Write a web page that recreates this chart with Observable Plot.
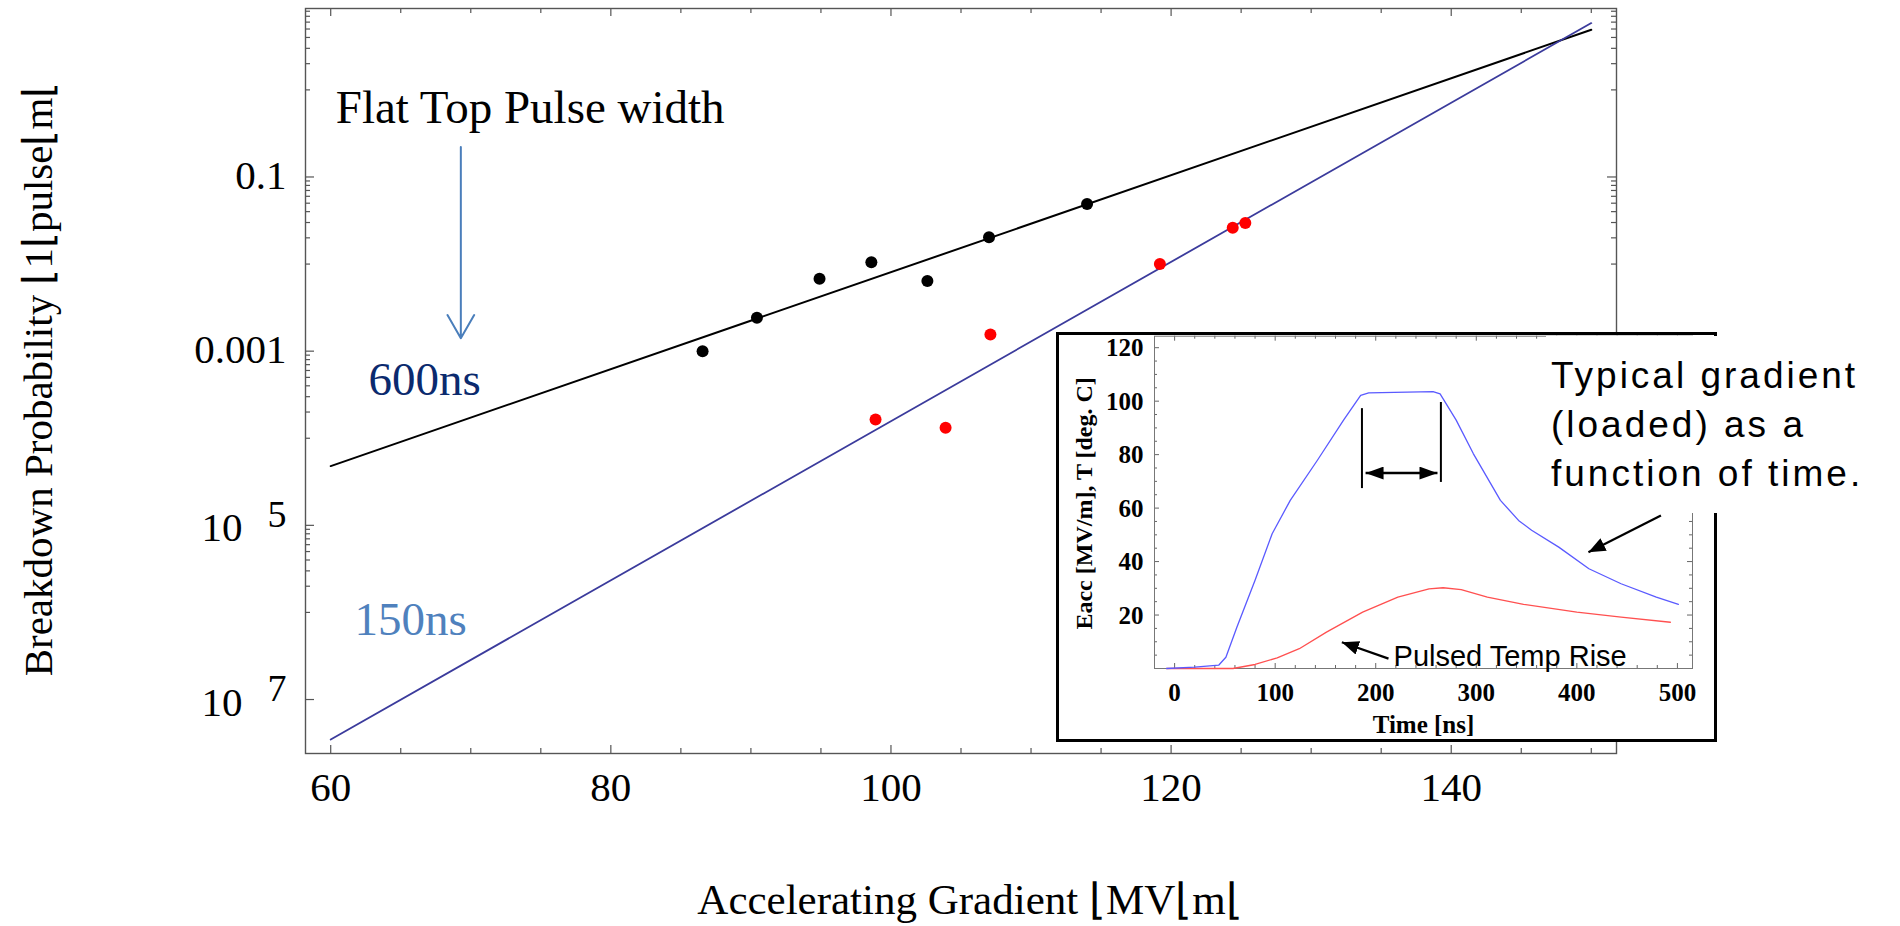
<!DOCTYPE html>
<html>
<head>
<meta charset="utf-8">
<script src="https://cdn.jsdelivr.net/npm/d3@7"></script>
<script src="https://cdn.jsdelivr.net/npm/@observablehq/plot@0.6"></script>
<style>
  html, body { margin: 0; padding: 0; background: #fff; }
  #figure { position: relative; width: 1900px; height: 926px; overflow: hidden; background: #fff; }
  #figure > svg { position: absolute; }
  #inset-box {
    position: absolute; left: 1056px; top: 332px; width: 661px; height: 410px;
    box-sizing: border-box; border: 3px solid #000; background: #fff;
  }
  #gradient-note {
    position: absolute; left: 1546px; top: 336px; width: 340px; height: 177px;
    box-sizing: border-box; padding: 15px 0 0 5px; background: #fff; color: #000;
    font: 37px/49px "Liberation Sans", Arial, sans-serif; letter-spacing: 3px; white-space: pre;
  }
</style>
</head>
<body>
<div id="figure"></div>
<script>
// ---- Breakdown probability vs accelerating gradient ----
// 600 ns flat-top pulses (black) and 150 ns flat-top pulses (red)
const gradient600 = [86.55, 90.43, 94.9, 98.6, 102.6, 107.0, 114.0];
const probability600 = [1.0e-3, 2.42e-3, 6.78e-3, 1.05e-2, 6.38e-3, 2.03e-2, 4.9e-2];
const gradient150 = [98.9, 103.9, 107.1, 119.2, 124.4, 125.3];
const probability150 = [1.64e-4, 1.32e-4, 1.55e-3, 1.0e-2, 2.61e-2, 2.96e-2];

// Exponential fits, evaluated at the ends of the gradient range
const fitGradient = [60, 150];
const fit600 = [4.79e-5, 4.9];
const fit150 = [3.47e-8, 5.85];

// Axis ticks
const gradientTicks = [60, 80, 100, 120, 140];
const gradientMinorTicks = [65, 70, 75, 85, 90, 95, 105, 110, 115, 125, 130, 135, 145, 150];
const probabilityTicks = [1e-1, 1e-3, 1e-5, 1e-7];
const probabilityTickBase = ["0.1", "0.001", "10", "10"];
const probabilityTickExponent = ["", "", "5", "7"];
const minorDecades = [1, 1e-2, 1e-4, 1e-6];
const minorSteps = [1, 2, 3, 4, 5, 6, 7, 8, 9];

// Text annotations on the main panel
const noteLabels = ["Flat Top Pulse width", "600ns", "150ns"];
const noteGradient = [60.36, 62.7, 61.7];
const noteProbability = [0.418, 3.12e-4, 5.45e-7];
const pointerGradient = 69.29;
const pointerFrom = 0.2213;
const pointerTo = 1.41e-3;

const xLabel = "Accelerating Gradient \u230AMV\u230Am\u230A";
const yLabel = "Breakdown Probability \u230A1\u230Apulse\u230Am\u230A";

// ---- Inset: accelerating gradient and pulsed temperature rise vs time ----
const pulseTime = [-8, 20, 44, 51, 62, 80, 97, 115, 142, 168, 185, 193, 257, 264, 280, 297, 324, 342, 355, 382, 412, 444, 479, 501];
const pulseGradient = [0, 0.5, 1.3, 4.2, 15.5, 33, 50.4, 62.9, 77.9, 92.9, 102.2, 103.1, 103.6, 102.7, 92.9, 80.4, 62.9, 55.4, 51.7, 45.4, 37.3, 31.7, 26.7, 24.0];
const tempTime = [-8, 58, 80, 102, 124, 151, 187, 222, 253, 267, 285, 311, 347, 400, 444, 493];
const tempRise = [0, 0, 1.5, 4.0, 7.4, 13.6, 21.1, 26.7, 29.8, 30.2, 29.5, 26.7, 24.0, 21.1, 19.2, 17.3];

const timeTicks = [0, 100, 200, 300, 400, 500];
const timeMinorTicks = [20, 40, 60, 80, 120, 140, 160, 180, 220, 240, 260, 280, 320, 340, 360, 380, 420, 440, 460, 480];
const valueTicks = [20, 40, 60, 80, 100, 120];
const valueMinorTicks = [5, 10, 15, 25, 30, 35, 45, 50, 55, 65, 70, 75, 85, 90, 95, 105, 110, 115];

// Flat-top interval marker (edges and double arrow)
const flatTopEdgeTime = [186.3, 264.8];
const flatTopEdgeLow = [67.3, 69.6];
const flatTopEdgeHigh = [97.2, 99.5];
const flatTopArrowTime = [189.9, 261.4];
const flatTopArrowLevel = 73.1;

// Call-out arrows: [tailTime, tailValue, tipTime, tipValue]
const gradientCallout = [483.6, 57.2, 411.5, 43.5];
const tempCallout = [212.7, 3.7, 166.3, 9.8];
const tempLabel = "Pulsed Temp Rise";
const tempLabelAt = [217.7, 1.1];
const insetXLabel = "Time [ns]";
const insetYLabel = "Eacc [MV/m], T [deg. C]";
const noteText = "Typical gradient\n(loaded) as a\nfunction of time.";

// ---------------------------------------------------------------
const serif = "Liberation Serif, Times New Roman, serif";
const sans = "Liberation Sans, Arial, sans-serif";

const points600 = gradient600.map((g, i) => ({g, p: probability600[i]}));
const points150 = gradient150.map((g, i) => ({g, p: probability150[i]}));
const line600 = fitGradient.map((g, i) => ({g, p: fit600[i]}));
const line150 = fitGradient.map((g, i) => ({g, p: fit150[i]}));
const notes = noteLabels.map((label, i) => ({label, g: noteGradient[i], p: noteProbability[i]}));
const noteColors = ["#000000", "#0b2a6e", "#4f81bd"];
const yTickRows = probabilityTicks.map((v, i) => ({v, base: probabilityTickBase[i], exp: probabilityTickExponent[i]}));
const yDomain = [2.4e-8, 8.6];
const probabilityMinorTicks = minorDecades.flatMap(d => minorSteps.map(s => s * d))
  .filter(v => v >= yDomain[0] && v <= yDomain[1]);

const W = 1900, H = 926;
const M = {top: 8, right: 284, bottom: 173, left: 305};
const frameW = W - M.left - M.right;
const frameH = H - M.top - M.bottom;
const tickStyle = {stroke: "#555", strokeWidth: 1.2};

const main = Plot.plot({
  width: W, height: H,
  marginTop: M.top, marginRight: M.right, marginBottom: M.bottom, marginLeft: M.left,
  x: {domain: [58.2, 151.8], axis: null},
  y: {type: "log", domain: yDomain, axis: null},
  style: {background: "transparent", overflow: "visible"},
  marks: [
    // inward ticks on all four sides
    Plot.ruleX(gradientTicks, {x: d => d, insetTop: frameH - 8, ...tickStyle}),
    Plot.ruleX(gradientTicks, {x: d => d, insetBottom: frameH - 8, ...tickStyle}),
    Plot.ruleX(gradientMinorTicks, {x: d => d, insetTop: frameH - 5, ...tickStyle}),
    Plot.ruleX(gradientMinorTicks, {x: d => d, insetBottom: frameH - 5, ...tickStyle}),
    Plot.ruleY(probabilityTicks, {y: d => d, insetRight: frameW - 9, ...tickStyle}),
    Plot.ruleY(probabilityTicks, {y: d => d, insetLeft: frameW - 9, ...tickStyle}),
    Plot.ruleY(probabilityMinorTicks, {y: d => d, insetRight: frameW - 5, ...tickStyle}),
    Plot.ruleY(probabilityMinorTicks, {y: d => d, insetLeft: frameW - 5, ...tickStyle}),
    Plot.frame({stroke: "#555", strokeWidth: 1.4}),

    // fits and measurements
    Plot.line(line600, {x: "g", y: "p", stroke: "#000", strokeWidth: 2}),
    Plot.line(line150, {x: "g", y: "p", stroke: "#3b3b9c", strokeWidth: 1.8}),
    Plot.dot(points600, {x: "g", y: "p", r: 6, fill: "#000"}),
    Plot.dot(points150, {x: "g", y: "p", r: 6, fill: "#ff0000"}),

    // tick labels
    Plot.text(gradientTicks, {x: d => d, text: d => String(d), frameAnchor: "bottom", lineAnchor: "bottom",
      dy: 47, fontSize: 41, fontFamily: serif, fill: "#000"}),
    Plot.text(yTickRows.filter(d => !d.exp), {y: "v", text: "base", frameAnchor: "left", textAnchor: "end",
      lineAnchor: "bottom", dx: -19, dy: 12, fontSize: 41, fontFamily: serif, fill: "#000"}),
    Plot.text(yTickRows.filter(d => d.exp), {y: "v", text: "base", frameAnchor: "left", textAnchor: "end",
      lineAnchor: "bottom", dx: -63, dy: 16, fontSize: 41, fontFamily: serif, fill: "#000"}),
    Plot.text(yTickRows.filter(d => d.exp), {y: "v", text: "exp", frameAnchor: "left", textAnchor: "end",
      lineAnchor: "bottom", dx: -19, dy: 1.5, fontSize: 38, fontFamily: serif, fill: "#000"}),

    // annotations
    ...notes.map((n, i) => Plot.text([n], {x: "g", y: "p", text: "label", textAnchor: "start",
      lineAnchor: "bottom", fontSize: 47, fontFamily: serif, fill: noteColors[i]})),
    Plot.arrow([{g: pointerGradient, p1: pointerFrom, p2: pointerTo}], {x: "g", y1: "p1", y2: "p2",
      stroke: "#4a7ebb", strokeWidth: 2, headLength: 20, headAngle: 60}),

    // axis titles
    Plot.text([xLabel], {text: d => d, frameAnchor: "bottom", textAnchor: "middle", lineAnchor: "bottom",
      dx: 9, dy: 160, fontSize: 43, fontFamily: serif, fill: "#000"}),
    Plot.text([yLabel], {text: d => d, frameAnchor: "left", rotate: -90, textAnchor: "middle",
      lineAnchor: "bottom", dx: -254, dy: -2, fontSize: 41, fontFamily: serif, fill: "#000"})
  ]
});

// filled triangular arrowhead
function filledHead(len, wid) {
  return (color) => {
    const m = d3.create("svg:marker")
      .attr("viewBox", `${-len} ${-wid / 2} ${len} ${wid}`)
      .attr("markerWidth", len)
      .attr("markerHeight", wid)
      .attr("markerUnits", "userSpaceOnUse")
      .attr("refX", 0).attr("refY", 0)
      .attr("orient", "auto-start-reverse")
      .attr("fill", color)
      .attr("stroke", "none");
    m.append("path").attr("d", `M${-len},${-wid / 2}L0,0L${-len},${wid / 2}Z`);
    return m.node();
  };
}

const IW = 850, IH = 425;
const IM = {top: 10.7, right: 208, bottom: 82, left: 104};
const iFrameW = IW - IM.left - IM.right;
const iFrameH = IH - IM.top - IM.bottom;
const iTick = {stroke: "#666", strokeWidth: 1};

const gradientSeries = pulseTime.map((t, i) => ({t, v: pulseGradient[i]}));
const tempSeries = tempTime.map((t, i) => ({t, v: tempRise[i]}));
const edges = flatTopEdgeTime.map((t, i) => ({t, lo: flatTopEdgeLow[i], hi: flatTopEdgeHigh[i]}));
const callouts = [gradientCallout, tempCallout].map(([t1, v1, t2, v2]) => ({t1, v1, t2, v2}));

const inset = Plot.plot({
  width: IW, height: IH,
  marginTop: IM.top, marginRight: IM.right, marginBottom: IM.bottom, marginLeft: IM.left,
  x: {domain: [-20, 515], axis: null},
  y: {domain: [0, 124.3], axis: null},
  style: {background: "transparent", overflow: "visible"},
  marks: [
    Plot.ruleX(timeTicks, {x: d => d, insetTop: iFrameH - 5, ...iTick}),
    Plot.ruleX(timeTicks, {x: d => d, insetBottom: iFrameH - 5, ...iTick}),
    Plot.ruleX(timeMinorTicks, {x: d => d, insetTop: iFrameH - 3, ...iTick}),
    Plot.ruleX(timeMinorTicks, {x: d => d, insetBottom: iFrameH - 3, ...iTick}),
    Plot.ruleY(valueTicks, {y: d => d, insetRight: iFrameW - 5, ...iTick}),
    Plot.ruleY(valueTicks, {y: d => d, insetLeft: iFrameW - 5, ...iTick}),
    Plot.ruleY(valueMinorTicks, {y: d => d, insetRight: iFrameW - 3, ...iTick}),
    Plot.ruleY(valueMinorTicks, {y: d => d, insetLeft: iFrameW - 3, ...iTick}),
    Plot.frame({stroke: "#777", strokeWidth: 1}),

    Plot.line(tempSeries, {x: "t", y: "v", stroke: "#ff5050", strokeWidth: 1.3}),
    Plot.line(gradientSeries, {x: "t", y: "v", stroke: "#5a5aff", strokeWidth: 1.3}),

    Plot.ruleX(edges, {x: "t", y1: "lo", y2: "hi", stroke: "#000", strokeWidth: 2}),
    Plot.link([{t1: flatTopArrowTime[0], t2: flatTopArrowTime[1], v: flatTopArrowLevel}],
      {x1: "t1", x2: "t2", y1: "v", y2: "v", stroke: "#000", strokeWidth: 2.5,
       markerStart: filledHead(18, 13), markerEnd: filledHead(18, 13)}),
    Plot.link(callouts, {x1: "t1", y1: "v1", x2: "t2", y2: "v2", stroke: "#000", strokeWidth: 2.2,
      markerEnd: filledHead(17, 14)}),

    Plot.text([tempLabel], {text: d => d, x: tempLabelAt[0], y: tempLabelAt[1], textAnchor: "start",
      lineAnchor: "bottom", fontSize: 29, fontFamily: sans, fill: "#000"}),

    Plot.text(timeTicks, {x: d => d, text: d => String(d), frameAnchor: "bottom", lineAnchor: "bottom",
      dy: 32, fontSize: 25, fontWeight: "bold", fontFamily: serif, fill: "#000"}),
    Plot.text(valueTicks, {y: d => d, text: d => String(d), frameAnchor: "left", textAnchor: "end",
      lineAnchor: "bottom", dx: -11, dy: 8.5, fontSize: 25, fontWeight: "bold", fontFamily: serif, fill: "#000"}),
    Plot.text([insetXLabel], {text: d => d, frameAnchor: "bottom", textAnchor: "middle", lineAnchor: "bottom",
      dy: 64, fontSize: 25, fontWeight: "bold", fontFamily: serif, fill: "#000"}),
    Plot.text([insetYLabel], {text: d => d, frameAnchor: "left", rotate: -90, textAnchor: "middle",
      lineAnchor: "bottom", dx: -63, dy: 1, fontSize: 24, fontWeight: "bold", fontFamily: serif, fill: "#000"})
  ]
});

const figure = document.getElementById("figure");
main.style.left = "0px";
main.style.top = "0px";
figure.appendChild(main);

const box = document.createElement("div");
box.id = "inset-box";
figure.appendChild(box);

inset.style.left = "1050px";
inset.style.top = "325px";
figure.appendChild(inset);

const note = document.createElement("div");
note.id = "gradient-note";
note.textContent = noteText;
figure.appendChild(note);
</script>
</body>
</html>
